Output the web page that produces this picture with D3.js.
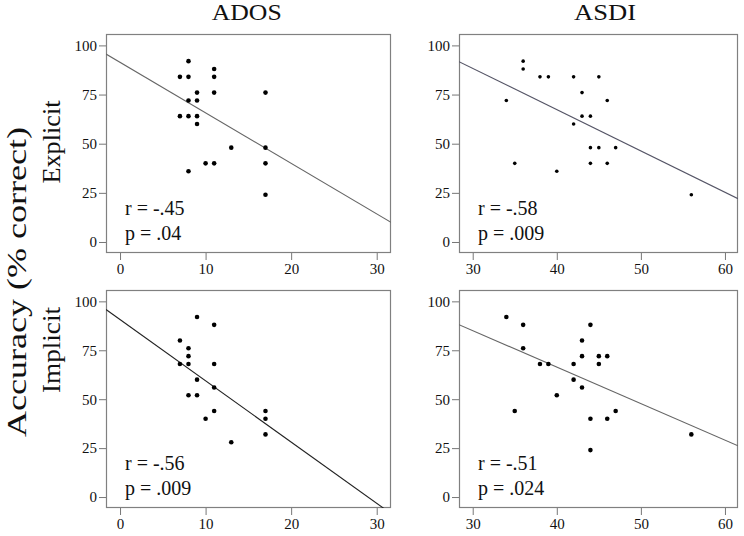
<!DOCTYPE html>
<html>
<head>
<meta charset="utf-8">
<script src="https://cdn.jsdelivr.net/npm/d3@7"></script>
<style>
  body { margin: 0; background: #fff; }
  text { font-family: "Liberation Serif", "Times New Roman", serif; }
</style>
</head>
<body>
<svg width="744" height="536"></svg>
<script>
// labels and ticks
var columnTitles = ['ADOS', 'ASDI'];
var rowTitles = ['Explicit', 'Implicit'];
var yTickValues = [0, 25, 50, 75, 100];
var adosTickValues = [0, 10, 20, 30];
var asdiTickValues = [30, 40, 50, 60];

// ADOS vs explicit accuracy
var adosExplicitX = [8, 7, 8, 11, 11, 9, 11, 17, 8, 9, 7, 8, 9, 9, 13, 17, 10, 11, 17, 8, 17];
var adosExplicitY = [92, 84, 84, 88, 84, 76, 76, 76, 72, 72, 64, 64, 64, 60, 48, 48, 40, 40, 40, 36, 24];

// ASDI vs explicit accuracy
var asdiExplicitX = [36, 36, 38, 39, 42, 45, 34, 43, 46, 43, 44, 42, 44, 45, 47, 35, 44, 46, 40, 56];
var asdiExplicitY = [92, 88, 84, 84, 84, 84, 72, 76, 72, 64, 64, 60, 48, 48, 48, 40, 40, 40, 36, 24];

// ADOS vs implicit accuracy
var adosImplicitX = [9, 11, 7, 8, 8, 7, 8, 11, 9, 11, 8, 9, 11, 10, 17, 17, 17, 13];
var adosImplicitY = [92, 88, 80, 76, 72, 68, 68, 68, 60, 56, 52, 52, 44, 40, 44, 40, 32, 28];

// ASDI vs implicit accuracy
var asdiImplicitX = [34, 36, 44, 43, 36, 43, 45, 46, 38, 39, 42, 45, 42, 43, 40, 35, 47, 44, 46, 56, 44];
var asdiImplicitY = [92, 88, 88, 80, 76, 72, 72, 72, 68, 68, 68, 68, 60, 56, 52, 44, 44, 40, 40, 32, 24];

// fit lines (intercept at x = 0, slope)
var fitIntercepts = [91.4, 151.3, 90.7, 141.0];
var fitSlopes = [-2.57, -2.10, -3.13, -1.865];

var rLabels = ['r = -.45', 'r = -.58', 'r = -.56', 'r = -.51'];
var pLabels = ['p = .04', 'p = .009', 'p = .009', 'p = .024'];

document.addEventListener("DOMContentLoaded", function () {
    drawChart();
});

function drawChart() {
    var svg = d3.select('svg');

    // frame boxes of the four panels
    var cols = [{ x0: 106, x1: 391 }, { x0: 459, x1: 738 }];
    var rows = [{ y0: 34, y1: 253 }, { y0: 290, y1: 508 }];
    var xDomains = [[-1.64, 31.67], [28.37, 61.55]];
    var xTicks = [adosTickValues, asdiTickValues];

    var panels = [
        { col: 0, row: 0, xs: adosExplicitX, ys: adosExplicitY, r: 2.3, lineColor: '#666' },
        { col: 1, row: 0, xs: asdiExplicitX, ys: asdiExplicitY, r: 1.8, lineColor: '#556' },
        { col: 0, row: 1, xs: adosImplicitX, ys: adosImplicitY, r: 2.3, lineColor: '#222' },
        { col: 1, row: 1, xs: asdiImplicitX, ys: asdiImplicitY, r: 2.3, lineColor: '#666' }
    ];

    panels.forEach(function (p, i) {
        var c = cols[p.col], rw = rows[p.row];
        var x = d3.scaleLinear().domain(xDomains[p.col]).range([c.x0, c.x1]);
        var y = d3.scaleLinear().domain([-5.6, 105.8]).range([rw.y1, rw.y0]);

        var clipId = 'clip' + i;
        svg.append('clipPath').attr('id', clipId)
            .append('rect')
            .attr('x', c.x0).attr('y', rw.y0)
            .attr('width', c.x1 - c.x0).attr('height', rw.y1 - rw.y0);

        // axes
        var yAxis = svg.append('g')
            .attr('transform', 'translate(' + c.x0 + ',0)')
            .call(d3.axisLeft(y).tickValues(yTickValues).tickSize(7).tickPadding(2));
        var xAxis = svg.append('g')
            .attr('transform', 'translate(0,' + rw.y1 + ')')
            .call(d3.axisBottom(x).tickValues(xTicks[p.col]).tickSize(7).tickPadding(3));

        [yAxis, xAxis].forEach(function (ax) {
            ax.select('.domain').remove();
            ax.selectAll('.tick line').attr('stroke', '#777');
            ax.selectAll('.tick text')
                .attr('fill', '#111')
                .style('font-size', '15px')
                .style('font-family', '"Liberation Serif", serif');
        });

        // frame
        svg.append('rect')
            .attr('x', c.x0 + 0.5).attr('y', rw.y0 + 0.5)
            .attr('width', c.x1 - c.x0 - 1).attr('height', rw.y1 - rw.y0 - 1)
            .attr('fill', 'none')
            .attr('stroke', '#808080')
            .attr('stroke-width', 1.2);

        // regression line
        var d0 = xDomains[p.col][0], d1 = xDomains[p.col][1];
        svg.append('line')
            .attr('clip-path', 'url(#' + clipId + ')')
            .attr('x1', x(d0)).attr('y1', y(fitIntercepts[i] + fitSlopes[i] * d0))
            .attr('x2', x(d1)).attr('y2', y(fitIntercepts[i] + fitSlopes[i] * d1))
            .attr('stroke', p.lineColor)
            .attr('stroke-width', 1.1);

        // points
        svg.append('g').selectAll('circle')
            .data(p.xs.map(function (v, k) { return [v, p.ys[k]]; }))
            .enter().append('circle')
            .attr('cx', function (d) { return x(d[0]); })
            .attr('cy', function (d) { return y(d[1]); })
            .attr('r', p.r)
            .attr('fill', '#000');

        // stats
        svg.append('text')
            .attr('x', c.x0 + 19).attr('y', rw.y1 - 38)
            .style('font-size', '20px')
            .attr('fill', '#111')
            .text(rLabels[i]);
        svg.append('text')
            .attr('x', c.x0 + 19).attr('y', rw.y1 - 13)
            .style('font-size', '20px')
            .attr('fill', '#111')
            .text(pLabels[i]);
    });

    // column titles
    var titleX = [246.7, 605];
    var titleW = [70, 62];
    columnTitles.forEach(function (t, i) {
        svg.append('text')
            .attr('x', titleX[i] - titleW[i] / 2).attr('y', 20)
            .attr('textLength', titleW[i])
            .attr('lengthAdjust', 'spacingAndGlyphs')
            .style('font-size', '23px')
            .attr('fill', '#111')
            .text(t);
    });

    // row titles
    var rowMid = [142, 350];
    var rowLen = [83, 86];
    rowTitles.forEach(function (t, i) {
        svg.append('text')
            .attr('transform', 'translate(60,' + (rowMid[i] + rowLen[i] / 2) + ') rotate(-90)')
            .attr('textLength', rowLen[i])
            .attr('lengthAdjust', 'spacingAndGlyphs')
            .style('font-size', '25px')
            .attr('fill', '#111')
            .text(t);
    });

    // shared y label
    svg.append('text')
        .attr('transform', 'translate(26,437) rotate(-90)')
        .attr('textLength', 310)
        .attr('lengthAdjust', 'spacingAndGlyphs')
        .style('font-size', '27px')
        .attr('fill', '#111')
        .text('Accuracy (% correct)');
}
</script>
</body>
</html>
